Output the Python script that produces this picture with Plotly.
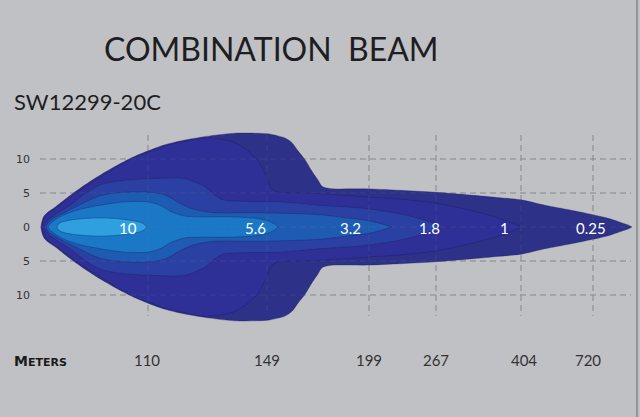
import plotly.graph_objects as go

# ---------------- data ----------------
# Beam contour levels (lux), outermost first
levels = ["0.25", "1", "1.8", "3.2", "5.6", "10"]
level_colors = ["#2d3188", "#2e3097", "#2a40a2", "#1e5bb3", "#1a78c6", "#2ea0df"]

# Horizontal position along beam (chart units) and half-width (m) of each contour
x_025 = [41, 42, 44, 48, 55, 68, 85, 102, 120, 135, 148, 165, 185, 210, 235, 255, 268, 278, 285, 292,
         298, 305, 312, 318, 322, 328, 335, 369, 400, 436, 470, 500, 521, 545, 570, 593, 610, 622, 628, 632]
h_025 = [0, 0.9, 1.6, 2.2, 2.9, 4.4, 6.2, 7.8, 9.3, 10.4, 11.2, 12.1, 12.8, 13.4, 13.8, 13.8, 13.7, 13.4, 13.1, 12.4,
         11.2, 9.9, 8.2, 6.9, 6.0, 5.7, 5.6, 5.6, 5.4, 5.1, 4.7, 4.3, 4.0, 3.2, 2.5, 1.8, 1.2, 0.6, 0.3, 0]

x_1 = [42, 43, 45, 49, 56, 69, 86, 103, 120, 135, 148, 165, 185, 205, 222, 235, 248, 258, 266, 272,
       280, 300, 320, 369, 400, 436, 460, 480, 495, 507, 516, 520, 522]
h_1 = [0, 0.7, 1.5, 2.1, 2.8, 4.3, 6.0, 7.6, 9.1, 10.3, 11.0, 11.9, 12.6, 13.1, 12.9, 12.4, 11.2, 9.7, 7.6, 5.6,
       5.1, 5.0, 4.9, 4.4, 4.1, 3.5, 2.8, 2.1, 1.5, 0.9, 0.4, 0.2, 0]

x_18 = [44, 48, 55, 70, 85, 100, 120, 148, 170, 185, 195, 205, 213, 223, 240, 280, 320, 360, 390, 410, 425, 435, 440]
h_18 = [0, 1.0, 1.8, 3.2, 4.9, 6.2, 6.8, 7.1, 7.2, 7.1, 6.6, 5.9, 4.9, 4.0, 3.8, 3.7, 3.2, 2.8, 2.2, 1.6, 1.0, 0.4, 0]

x_32 = [46, 50, 60, 75, 100, 125, 150, 165, 180, 190, 200, 215, 260, 320, 350, 370, 383, 392]
h_32 = [0, 0.9, 1.8, 2.9, 4.6, 5.1, 5.1, 4.7, 3.5, 2.8, 2.4, 2.1, 2.1, 1.8, 1.3, 0.9, 0.4, 0]

x_56 = [48, 52, 60, 75, 100, 125, 148, 160, 172, 185, 200, 230, 255, 268, 275, 278]
h_56 = [0, 0.7, 1.5, 2.4, 3.2, 3.7, 3.7, 3.2, 2.2, 1.6, 1.5, 1.5, 1.3, 0.9, 0.4, 0]

x_10 = [57, 60, 70, 90, 110, 130, 142, 147]
h_10 = [0, 0.6, 1.0, 1.3, 1.3, 1.0, 0.6, 0]

contour_x = [x_025, x_1, x_18, x_32, x_56, x_10]
contour_h = [h_025, h_1, h_18, h_32, h_56, h_10]

# Value labels inside the beam
label_pos = [591, 504, 429, 350, 255, 128]

# Distance axis
meters = ["110", "149", "199", "267", "404", "720"]
meter_label_pos = [147, 267, 369, 436, 524, 588]
grid_x = [148, 267, 369, 436, 521, 593]

# Lateral axis
lat_vals = [10, 5, 0, -5, -10]
lat_text = ["10", "5", "0", "5", "10"]

# ---------------- figure ----------------
W, H = 640, 417
L, R, T, B = 40, 0, 130, 77
PX = 6.8  # px per metre vertically
y_center_px = 227
y_top = (y_center_px - T) / PX
y_bot = -((H - B) - y_center_px) / PX


def px_to_paper_x(px):
    return (px - L) / (W - L - R)


def py_to_paper_y(py):
    return ((H - B) - py) / (H - T - B)


fig = go.Figure()

for name, col, xs, hs in zip(levels, level_colors, contour_x, contour_h):
    xx = list(xs) + list(reversed(xs))
    yy = list(hs) + [-v for v in reversed(hs)]
    fig.add_trace(go.Scatter(
        x=xx, y=yy, fill="toself", fillcolor=col, mode="lines",
        line=dict(color="rgba(25,25,80,0.55)", width=0.6, shape="spline", smoothing=0.8),
        name=name, hoverinfo="name", showlegend=False))

shapes = []
dash = "6px,4px"
for layer, gcol in (("below", "#8e8f93"), ("above", "rgba(140,140,150,0.18)")):
    for v in lat_vals:
        shapes.append(dict(type="line", xref="x", yref="y", x0=40, x1=631, y0=v, y1=v,
                           line=dict(color=gcol, width=1, dash=dash), layer=layer))
    for gx in grid_x:
        shapes.append(dict(type="line", xref="x", yref="y", x0=gx, x1=gx,
                           y0=(y_center_px - 135) / PX, y1=-(316 - y_center_px) / PX,
                           line=dict(color=gcol, width=1, dash=dash), layer=layer))
# right border
shapes.append(dict(type="line", xref="paper", yref="paper",
                   x0=px_to_paper_x(637), x1=px_to_paper_x(637),
                   y0=py_to_paper_y(0), y1=py_to_paper_y(H),
                   line=dict(color="#77777b", width=1.2)))

annotations = []
for name, lx in zip(levels, label_pos):
    annotations.append(dict(x=lx, y=-0.15, xref="x", yref="y", text=name, showarrow=False,
                            font=dict(family="Lato", size=15, color="white")))

annotations.append(dict(x=px_to_paper_x(271), y=py_to_paper_y(48), xref="paper", yref="paper",
                        text="COMBINATION  BEAM", showarrow=False, xanchor="center", yanchor="middle",
                        font=dict(family="Lato", size=32, color="#1e1e22")))
annotations.append(dict(x=px_to_paper_x(12), y=py_to_paper_y(101), xref="paper", yref="paper",
                        text="SW12299-20C", showarrow=False, xanchor="left", yanchor="middle",
                        font=dict(family="Lato", size=22, color="#1e1e22")))
annotations.append(dict(x=px_to_paper_x(12), y=py_to_paper_y(361), xref="paper", yref="paper",
                        text="<b>M<span style='font-size:11px'>ETERS</span></b>", showarrow=False,
                        xanchor="left", yanchor="middle",
                        font=dict(family="DejaVu Sans", size=14, color="#1a1a1a")))

fig.update_layout(
    width=W, height=H,
    margin=dict(l=L, r=R, t=T, b=B, pad=0),
    paper_bgcolor="#c0c1c5", plot_bgcolor="#c0c1c5",
    xaxis=dict(range=[40, 640], showgrid=False, zeroline=False, showline=False,
               tickvals=meter_label_pos, ticktext=meters, ticks="", ticklabelstandoff=10,
               tickfont=dict(family="Lato", size=15, color="#333"), fixedrange=True),
    yaxis=dict(range=[y_bot, y_top], showgrid=False, zeroline=False, showline=False,
               tickvals=lat_vals, ticktext=lat_text, ticks="", ticklabelstandoff=9,
               tickfont=dict(family="DejaVu Sans", size=11, color="#333"), fixedrange=True),
    shapes=shapes, annotations=annotations, showlegend=False,
)

fig.write_html("out.html")
